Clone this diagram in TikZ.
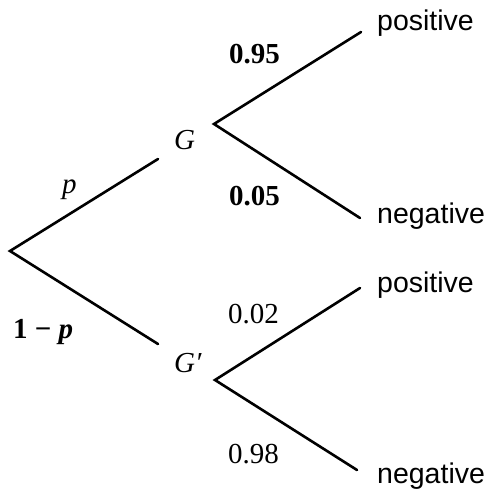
\documentclass[tikz,border=0pt]{standalone}
\usepackage{fontspec}
\setmainfont{Liberation Serif}
\setsansfont{Liberation Sans}
\usepackage{tikz}
\usetikzlibrary{positioning}
\tikzset{
    % Line styles
    branch/.style={
        draw=black,
        line width=2.6pt,
        line cap=round,
        line join=miter
    },
    % Text styles
    problabel/.style={
        anchor=base west,
        inner sep=0pt,
        font=\fontsize{29}{34}\selectfont
    },
    eventlabel/.style={
        anchor=base west,
        inner sep=0pt,
        font=\fontsize{29}{34}\selectfont\itshape
    },
    outcome/.style={
        anchor=base west,
        inner sep=0pt,
        font=\fontsize{28.5}{34}\selectfont\sffamily
    }
}
\begin{document}
\begin{tikzpicture}[x=1pt,y=-1pt]
    \useasboundingbox (0,0) rectangle (490,498);

    % Branch points
    \coordinate (root) at (10,251);
    \coordinate (gend) at (158,159);
    \coordinate (gpend) at (158,344);
    \coordinate (g) at (214,124);
    \coordinate (gp) at (215,380);
    \coordinate (gpos) at (361,32);
    \coordinate (gneg) at (360,218);
    \coordinate (gppos) at (360,288);
    \coordinate (gpneg) at (357,470);

    % First stage
    \draw[branch] (gend) -- (root) -- (gpend);
    \node[eventlabel] (lg) at (174,149) {G};
    \node[eventlabel] (lgp) at (174,372) {G′};
    \node[problabel,font=\fontsize{29}{34}\selectfont\itshape] (lp) at (62,193) {p};
    \node[problabel,font=\fontsize{29}{34}\selectfont\bfseries] (lnp) at (13,338) {1 − \textit{p}};

    % Second stage after G
    \draw[branch] (gpos) -- (g) -- (gneg);
    \node[problabel,font=\fontsize{29}{34}\selectfont\bfseries] (l95) at (229,63) {0.95};
    \node[problabel,font=\fontsize{29}{34}\selectfont\bfseries] (l05) at (229,205) {0.05};
    \node[outcome] (pos1) at (377,30) {positive};
    \node[outcome] (neg1) at (377,223) {negative};

    % Second stage after G'
    \draw[branch] (gppos) -- (gp) -- (gpneg);
    \node[problabel] (l02) at (228,323) {0.02};
    \node[problabel] (l98) at (228,463) {0.98};
    \node[outcome] (pos2) at (377,292) {positive};
    \node[outcome] (neg2) at (377,483) {negative};
\end{tikzpicture}
\end{document}
